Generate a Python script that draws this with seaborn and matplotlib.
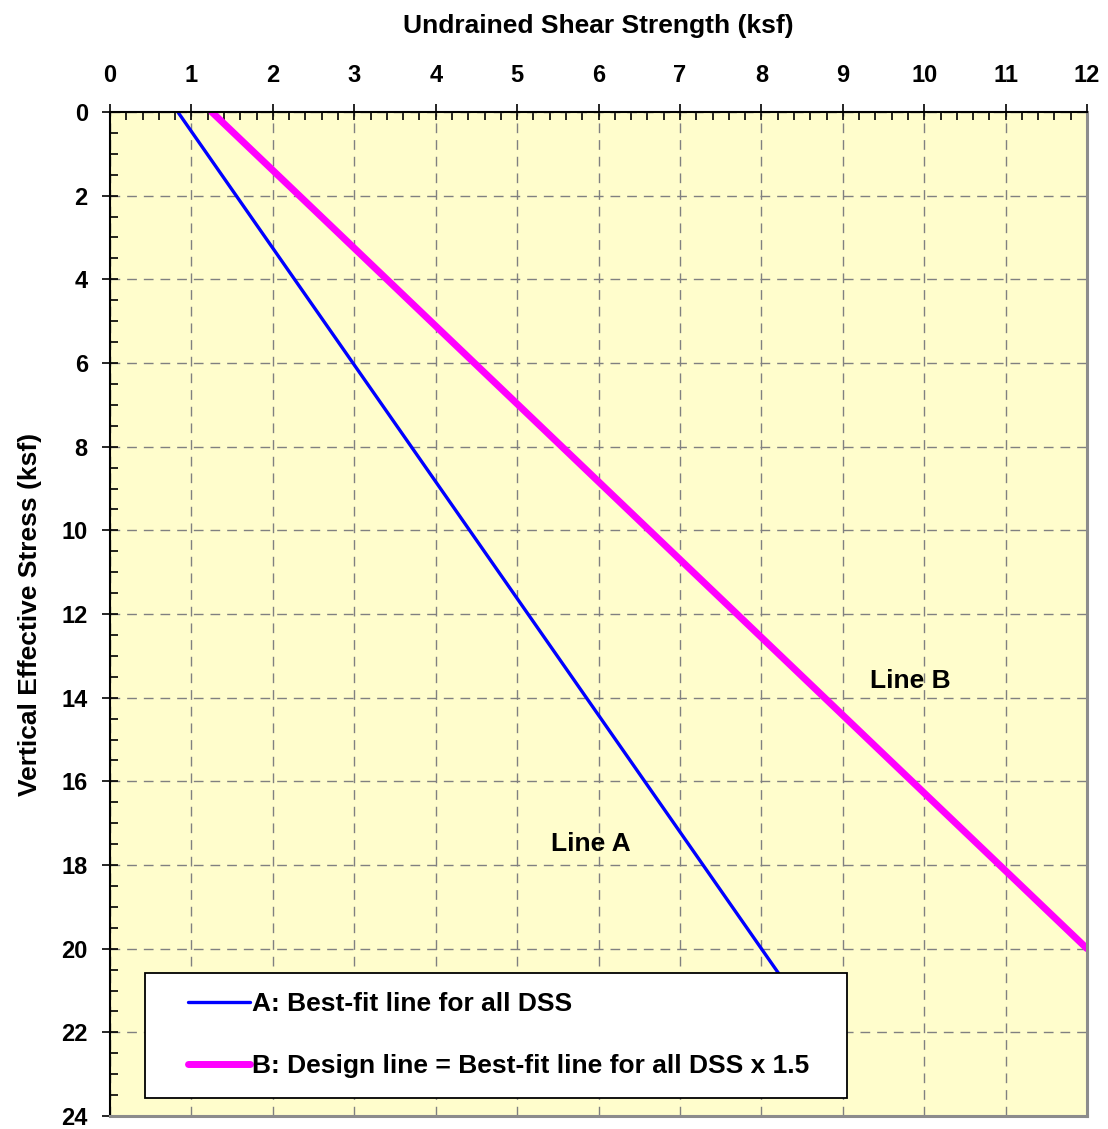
import matplotlib
matplotlib.use("Agg")
import matplotlib.pyplot as plt
from matplotlib.patches import Rectangle
from matplotlib.ticker import MultipleLocator
import seaborn as sns
import pandas as pd

# Vertical effective stress (ksf) and undrained shear strength (ksf)
stress_a = [0.0, 22.0]
strength_a = [0.833, 8.717]
stress_b = [0.0, 20.0]
strength_b = [1.25, 12.0]

label_a = "A: Best-fit line for all DSS"
label_b = "B: Design line = Best-fit line for all DSS x 1.5"

df = pd.concat([
    pd.DataFrame({"stress": stress_a, "strength": strength_a, "line": label_a}),
    pd.DataFrame({"stress": stress_b, "strength": strength_b, "line": label_b}),
])

sns.set_style("ticks")
plt.rcParams["font.family"] = ["Liberation Sans", "DejaVu Sans"]
plt.rcParams["font.weight"] = "bold"
plt.rcParams["text.color"] = "black"
plt.rcParams["axes.labelcolor"] = "black"
plt.rcParams["xtick.color"] = "black"
plt.rcParams["ytick.color"] = "black"
plt.rcParams["xtick.labelcolor"] = "black"
plt.rcParams["ytick.labelcolor"] = "black"

fig = plt.figure(figsize=(11.08, 11.29), dpi=100)
ax = fig.add_axes([0.0993, 0.0115, 0.8818, 0.8893])
ax.set_facecolor("#FFFDCC")

sns.lineplot(data=df, x="strength", y="stress", hue="line", sort=False,
             palette={label_a: "#0000FF", label_b: "#FF00FF"},
             size="line", sizes={label_a: 2.4, label_b: 5.0},
             estimator=None, ax=ax, legend=True)
for ln in ax.get_lines():
    ln.set_solid_capstyle("round")

ax.set_xlim(0, 12)
ax.set_ylim(24, 0)
ax.xaxis.set_major_locator(MultipleLocator(1))
ax.xaxis.set_minor_locator(MultipleLocator(0.2))
ax.yaxis.set_major_locator(MultipleLocator(2))
ax.yaxis.set_minor_locator(MultipleLocator(0.5))
ax.xaxis.tick_top()
ax.xaxis.set_label_position("top")

ax.tick_params(axis="both", which="major", direction="inout", length=12,
               width=1.2, color="black", labelcolor="black", labelsize=17)
ax.tick_params(axis="x", which="major", pad=12)
ax.tick_params(axis="y", which="major", pad=10)
ax.tick_params(axis="both", which="minor", direction="in", length=6,
               width=1.2, color="black")
ax.tick_params(axis="x", which="both", top=True, bottom=False)
ax.tick_params(axis="y", which="both", left=True, right=False)
for lbl in ax.get_xticklabels() + ax.get_yticklabels():
    lbl.set_fontweight("bold")

ax.grid(True, which="major", color="#808080", linestyle=(0, (7, 5)), linewidth=1.0)
ax.set_axisbelow(True)

for side in ["top", "left"]:
    ax.spines[side].set_color("black")
    ax.spines[side].set_linewidth(1.5)
for side in ["right", "bottom"]:
    ax.spines[side].set_visible(True)
    ax.spines[side].set_color("#8C8C8C")
    ax.spines[side].set_linewidth(2.2)

ax.set_xlabel("Undrained Shear Strength (ksf)", fontsize=19, fontweight="bold",
              labelpad=22, color="black")
ax.set_ylabel("Vertical Effective Stress (ksf)", fontsize=19, fontweight="bold",
              labelpad=14, color="black")

ax.text(9.83, 13.6, "Line B", fontsize=19, fontweight="bold", ha="center", va="center")
ax.text(5.9, 17.5, "Line A", fontsize=19, fontweight="bold", ha="center", va="center")

# Legend box drawn as its own frame, entries placed inside it
box = Rectangle((0.0358, 0.018), 0.719, 0.124, transform=ax.transAxes,
                facecolor="white", edgecolor="black", linewidth=1.3, zorder=5)
ax.add_patch(box)

handles, labels = ax.get_legend_handles_labels()
pairs = [(h, l) for h, l in zip(handles, labels) if l in (label_a, label_b)]
leg = ax.legend([p[0] for p in pairs], [p[1] for p in pairs],
                loc="center left", bbox_to_anchor=(0.0798, 0.0805),
                frameon=False, fontsize=19,
                handlelength=2.35, handletextpad=0.08, labelspacing=1.45,
                borderpad=0, borderaxespad=0)
leg.set_zorder(6)
for t in leg.get_texts():
    t.set_fontweight("bold")
    t.set_color("black")

fig.savefig("out.png", dpi=100)
